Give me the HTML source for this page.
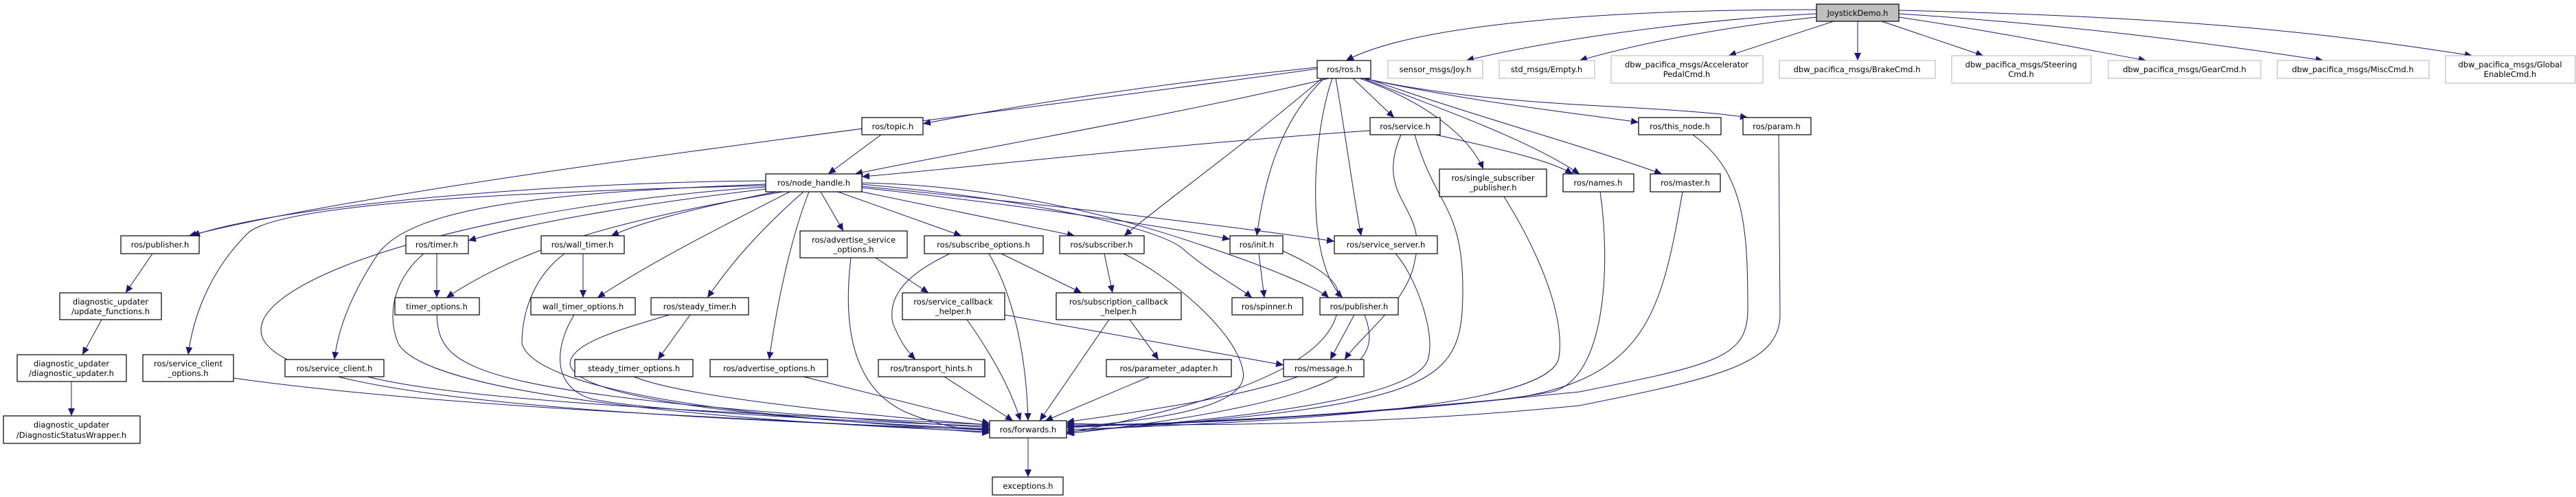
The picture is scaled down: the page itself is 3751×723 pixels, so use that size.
<!DOCTYPE html>
<html><head><meta charset="utf-8"><style>
html,body{margin:0;padding:0;background:#fff;}
svg{display:block}
text{font-family:"DejaVu Sans","Liberation Sans",sans-serif;font-size:11.5px;fill:#000;text-anchor:middle}
.n{fill:#fff;stroke:#000;stroke-width:1.2}
.g{fill:#fff;stroke:#bfbfbf;stroke-width:1.2}
.e{fill:none;stroke:#191970;stroke-width:1;marker-end:url(#a)}
</style></head><body>
<svg width="3751" height="723" viewBox="0 0 3751 723" xmlns="http://www.w3.org/2000/svg">
<defs><marker id="a" markerUnits="userSpaceOnUse" markerWidth="12" markerHeight="10" refX="11" refY="5" orient="auto"><path d="M0,0 L11,5 L0,10 z" fill="#191970"/></marker></defs>
<g>
<path class="e" d="M2645,14 C2300,14 2050,40 1960,88"/>
<path class="e" d="M2645,20 C2450,30 2250,60 2135,88"/>
<path class="e" d="M2645,25 C2500,40 2380,65 2300,88"/>
<path class="e" d="M2670,31 L2517,81"/>
<path class="e" d="M2705,31 L2705,88"/>
<path class="e" d="M2740,31 L2888,81"/>
<path class="e" d="M2765,25 C2900,45 3000,65 3125,88"/>
<path class="e" d="M2765,20 C3000,35 3200,60 3383,88"/>
<path class="e" d="M2765,15 C3200,25 3400,50 3600,81"/>
<path class="e" d="M1918,100 C1500,160 600,260 275,343"/>
<path class="e" d="M1935,114 C1700,170 1400,220 1245,253"/>
<path class="e" d="M1918,98 C1700,120 1500,150 1344,180"/>
<path class="e" d="M1970,114 L2030,171"/>
<path class="e" d="M1985,114 C2150,150 2300,165 2386,178"/>
<path class="e" d="M1985,114 C2200,160 2400,150 2545,171"/>
<path class="e" d="M1980,114 C2080,150 2140,200 2160,246"/>
<path class="e" d="M1985,114 C2100,160 2220,200 2300,253"/>
<path class="e" d="M1990,114 C2150,170 2300,210 2420,253"/>
<path class="e" d="M1945,114 C1960,200 1970,280 1982,343"/>
<path class="e" d="M1925,114 C1800,220 1700,290 1637,343"/>
<path class="e" d="M1928,114 C1860,180 1840,270 1830,343"/>
<path class="e" d="M1940,114 C1910,200 1900,380 1955,433"/>
<path class="e" d="M1995,190 C1700,210 1400,245 1255,257"/>
<path class="e" d="M2090,196 C2200,220 2260,235 2290,253"/>
<path class="e" d="M2040,196 C2000,290 2080,300 2060,380 C2050,440 1980,490 1958,523"/>
<path class="e" d="M2060,196 C2090,300 2130,300 2130,420 C2130,560 2100,590 1553,628"/>
<path class="e" d="M1283,196 L1206,253"/>
<path class="e" d="M1115,263 C800,265 400,300 280,343"/>
<path class="e" d="M1115,270 C700,280 400,300 360,340 C300,400 280,470 274,516"/>
<path class="e" d="M1115,268 C800,280 600,300 550,370 C510,430 492,480 487,523"/>
<path class="e" d="M1115,275 C900,300 750,330 682,350"/>
<path class="e" d="M1140,279 C900,320 760,360 650,433"/>
<path class="e" d="M1130,279 C1000,305 930,325 890,343"/>
<path class="e" d="M1150,279 C1050,330 950,380 870,433"/>
<path class="e" d="M1170,279 C1100,340 1060,390 1030,433"/>
<path class="e" d="M1178,279 C1150,350 1130,450 1120,523"/>
<path class="e" d="M1195,279 L1228,336"/>
<path class="e" d="M1220,279 L1400,343"/>
<path class="e" d="M1255,279 L1565,343"/>
<path class="e" d="M1255,273 C1500,300 1700,330 1791,348"/>
<path class="e" d="M1255,271 C1550,300 1800,330 1943,351"/>
<path class="e" d="M1255,268 C1500,290 1680,330 1720,360 C1760,395 1800,415 1823,433"/>
<path class="e" d="M1255,266 C1500,270 1700,340 1760,360 C1850,390 1920,420 1935,433"/>
<path class="e" d="M1115,272 C700,300 380,400 380,480 C380,560 700,600 1441,625"/>
<path class="e" d="M222,369 L183,426"/>
<path class="e" d="M148,465 L120,516"/>
<path class="e" d="M104,555 L104,605"/>
<path class="e" d="M636,369 L636,433"/>
<path class="e" d="M617,369 C580,400 560,450 580,500 C620,570 1000,610 1441,628"/>
<path class="e" d="M849,369 L849,433"/>
<path class="e" d="M822,369 C780,400 760,450 760,500 C780,570 1100,610 1441,626"/>
<path class="e" d="M1005,458 L958,523"/>
<path class="e" d="M975,458 C900,480 830,500 830,530 C840,580 1100,610 1441,624"/>
<path class="e" d="M636,458 C640,540 680,575 1441,622"/>
<path class="e" d="M836,458 C810,500 800,560 860,580 C950,600 1300,615 1441,620"/>
<path class="e" d="M923,548 C1000,580 1300,608 1441,618"/>
<path class="e" d="M340,550 C700,600 1200,610 1441,630"/>
<path class="e" d="M535,548 C700,590 1200,605 1441,618"/>
<path class="e" d="M1170,548 L1441,616"/>
<path class="e" d="M1239,375 C1230,450 1230,560 1320,600 C1380,625 1420,625 1441,625"/>
<path class="e" d="M1275,375 L1352,426"/>
<path class="e" d="M1383,369 C1340,390 1290,420 1300,470 C1310,495 1320,510 1333,523"/>
<path class="e" d="M1458,369 L1575,426"/>
<path class="e" d="M1440,369 C1470,420 1494,500 1497,612"/>
<path class="e" d="M1608,369 L1620,426"/>
<path class="e" d="M1636,369 C1700,400 1800,480 1810,540 C1820,590 1700,610 1553,622"/>
<path class="e" d="M1463,458 L1869,531"/>
<path class="e" d="M1408,465 C1440,510 1470,560 1486,612"/>
<path class="e" d="M1645,465 L1687,523"/>
<path class="e" d="M1615,465 L1514,612"/>
<path class="e" d="M1375,548 L1475,612"/>
<path class="e" d="M1674,548 L1522,612"/>
<path class="e" d="M1833,369 L1841,433"/>
<path class="e" d="M1868,365 C1900,380 1940,400 1947,420 C1960,480 1920,560 1553,630"/>
<path class="e" d="M2032,369 C2060,400 2090,480 2080,520 C2070,580 1800,610 1553,628"/>
<path class="e" d="M1972,458 L1937,523"/>
<path class="e" d="M1987,458 C2010,520 2000,580 1553,631"/>
<path class="e" d="M2190,286 C2230,350 2280,450 2270,520 C2260,580 2000,610 1553,625"/>
<path class="e" d="M2330,279 C2345,380 2340,550 2260,570 C2100,600 1700,615 1553,622"/>
<path class="e" d="M2450,279 C2420,450 2400,550 2200,580 C1900,610 1700,618 1553,620"/>
<path class="e" d="M2465,196 C2540,250 2545,330 2545,450 C2545,520 2500,530 2300,570 C1900,610 1700,618 1553,618"/>
<path class="e" d="M2590,196 L2592,460 C2590,530 2500,550 2300,590 C2000,620 1700,620 1553,616"/>
<path class="e" d="M1890,548 C1800,580 1650,600 1553,614"/>
<path class="e" d="M1497,637 L1497,694"/>
</g>
<g>
<rect x="2645" y="6" width="120" height="25" fill="#bfbfbf" stroke="#000" stroke-width="1.2"/><text x="2705" y="23">JoystickDemo.h</text>
<rect class="n" x="1918" y="88" width="78" height="26"/><text x="1957" y="105">ros/ros.h</text>
<rect class="g" x="2021" y="88" width="138" height="26"/><text x="2090" y="105">sensor_msgs/Joy.h</text>
<rect class="g" x="2183" y="88" width="139" height="26"/><text x="2252" y="105">std_msgs/Empty.h</text>
<rect class="g" x="2346" y="81" width="221" height="40"/><text x="2456" y="98">dbw_pacifica_msgs/Accelerator</text><text x="2456" y="112">PedalCmd.h</text>
<rect class="g" x="2591" y="88" width="227" height="26"/><text x="2704" y="105">dbw_pacifica_msgs/BrakeCmd.h</text>
<rect class="g" x="2842" y="81" width="203" height="40"/><text x="2943" y="98">dbw_pacifica_msgs/Steering</text><text x="2943" y="112">Cmd.h</text>
<rect class="g" x="3070" y="88" width="222" height="26"/><text x="3181" y="105">dbw_pacifica_msgs/GearCmd.h</text>
<rect class="g" x="3316" y="88" width="221" height="26"/><text x="3426" y="105">dbw_pacifica_msgs/MiscCmd.h</text>
<rect class="g" x="3561" y="81" width="189" height="40"/><text x="3655" y="98">dbw_pacifica_msgs/Global</text><text x="3655" y="112">EnableCmd.h</text>
<rect class="n" x="1255" y="171" width="89" height="25"/><text x="1300" y="188">ros/topic.h</text>
<rect class="n" x="1995" y="171" width="102" height="25"/><text x="2046" y="188">ros/service.h</text>
<rect class="n" x="2386" y="171" width="120" height="25"/><text x="2446" y="188">ros/this_node.h</text>
<rect class="n" x="2538" y="171" width="99" height="25"/><text x="2587" y="188">ros/param.h</text>
<rect class="n" x="1115" y="253" width="140" height="26"/><text x="1185" y="270">ros/node_handle.h</text>
<rect class="n" x="2096" y="246" width="156" height="40"/><text x="2174" y="263">ros/single_subscriber</text><text x="2174" y="277">_publisher.h</text>
<rect class="n" x="2276" y="253" width="103" height="26"/><text x="2327" y="270">ros/names.h</text>
<rect class="n" x="2403" y="253" width="102" height="26"/><text x="2454" y="270">ros/master.h</text>
<rect class="n" x="176" y="343" width="114" height="26"/><text x="233" y="360">ros/publisher.h</text>
<rect class="n" x="591" y="343" width="91" height="26"/><text x="636" y="360">ros/timer.h</text>
<rect class="n" x="788" y="343" width="121" height="26"/><text x="848" y="360">ros/wall_timer.h</text>
<rect class="n" x="1165" y="336" width="156" height="39"/><text x="1243" y="353">ros/advertise_service</text><text x="1243" y="367">_options.h</text>
<rect class="n" x="1346" y="343" width="173" height="26"/><text x="1432" y="360">ros/subscribe_options.h</text>
<rect class="n" x="1543" y="343" width="123" height="26"/><text x="1604" y="360">ros/subscriber.h</text>
<rect class="n" x="1791" y="343" width="77" height="26"/><text x="1830" y="360">ros/init.h</text>
<rect class="n" x="1943" y="343" width="150" height="26"/><text x="2018" y="360">ros/service_server.h</text>
<rect class="n" x="87" y="426" width="148" height="39"/><text x="161" y="443">diagnostic_updater</text><text x="161" y="457">/update_functions.h</text>
<rect class="n" x="575" y="433" width="123" height="25"/><text x="636" y="450">timer_options.h</text>
<rect class="n" x="773" y="433" width="152" height="25"/><text x="849" y="450">wall_timer_options.h</text>
<rect class="n" x="948" y="433" width="142" height="25"/><text x="1019" y="450">ros/steady_timer.h</text>
<rect class="n" x="1314" y="426" width="149" height="39"/><text x="1388" y="443">ros/service_callback</text><text x="1388" y="457">_helper.h</text>
<rect class="n" x="1538" y="426" width="182" height="39"/><text x="1629" y="443">ros/subscription_callback</text><text x="1629" y="457">_helper.h</text>
<rect class="n" x="1794" y="433" width="103" height="25"/><text x="1845" y="450">ros/spinner.h</text>
<rect class="n" x="1922" y="433" width="114" height="25"/><text x="1979" y="450">ros/publisher.h</text>
<rect class="n" x="25" y="516" width="159" height="39"/><text x="104" y="533">diagnostic_updater</text><text x="104" y="547">/diagnostic_updater.h</text>
<rect class="n" x="208" y="516" width="132" height="39"/><text x="274" y="533">ros/service_client</text><text x="274" y="547">_options.h</text>
<rect class="n" x="415" y="523" width="144" height="25"/><text x="487" y="540">ros/service_client.h</text>
<rect class="n" x="837" y="523" width="172" height="25"/><text x="923" y="540">steady_timer_options.h</text>
<rect class="n" x="1034" y="523" width="171" height="25"/><text x="1120" y="540">ros/advertise_options.h</text>
<rect class="n" x="1279" y="523" width="155" height="25"/><text x="1356" y="540">ros/transport_hints.h</text>
<rect class="n" x="1611" y="523" width="182" height="25"/><text x="1702" y="540">ros/parameter_adapter.h</text>
<rect class="n" x="1869" y="523" width="117" height="25"/><text x="1927" y="540">ros/message.h</text>
<rect class="n" x="5" y="605" width="199" height="40"/><text x="104" y="622">diagnostic_updater</text><text x="104" y="637">/DiagnosticStatusWrapper.h</text>
<rect class="n" x="1441" y="612" width="112" height="25"/><text x="1497" y="629">ros/forwards.h</text>
<rect class="n" x="1445" y="694" width="103" height="26"/><text x="1497" y="711">exceptions.h</text>
</g>
</svg>
</body></html>
